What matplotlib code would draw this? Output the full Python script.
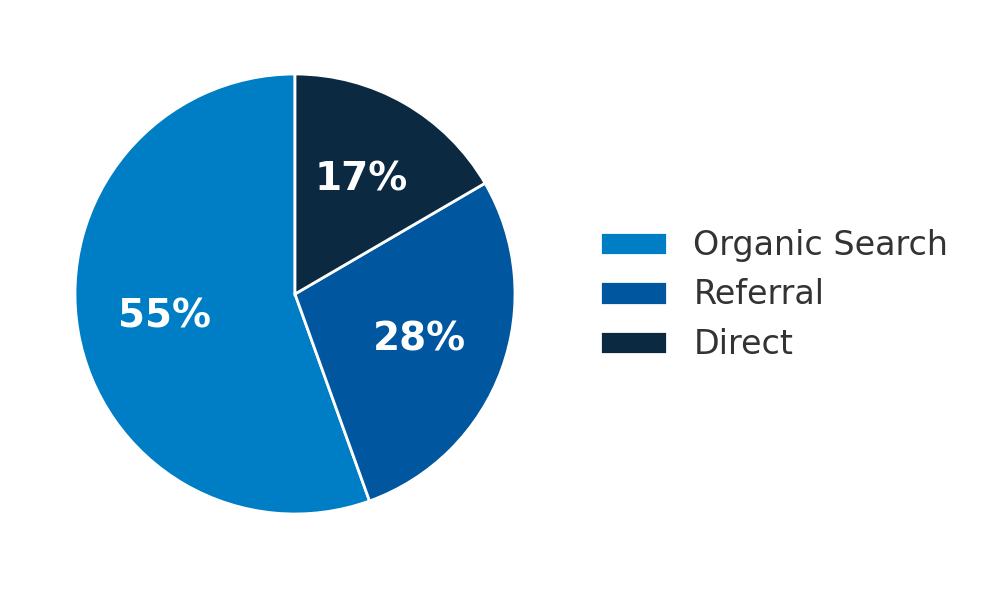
import matplotlib
matplotlib.use("Agg")
import matplotlib.pyplot as plt

labels = ["Organic Search", "Referral", "Direct"]
values = [55.5, 27.9, 16.6]
pct_labels = ["55%", "28%", "17%"]
colors = ["#007EC5", "#0057A0", "#0B2941"]

fig = plt.figure(figsize=(9.82, 5.9), dpi=100)
ax = fig.add_axes([75/982, 76/590, 440/982, 440/590])
wedges, texts = ax.pie(
    values, colors=colors, startangle=90, counterclock=True,
    wedgeprops=dict(edgecolor="white", linewidth=2),
)
import numpy as np
for w, lab in zip(wedges, pct_labels):
    ang = np.deg2rad((w.theta1 + w.theta2) / 2)
    ax.text(0.6 * np.cos(ang), 0.6 * np.sin(ang), lab, ha="center", va="center",
            color="white", fontsize=28, fontweight="bold")
ax.set_xlim(-1, 1)
ax.set_ylim(-1, 1)
ax.set_aspect("auto")

leg = fig.legend(wedges, labels, loc="center left", bbox_to_anchor=(570/982, 0.5),
                 frameon=False, fontsize=24)
for t in leg.get_texts():
    t.set_color("#333333")

fig.savefig("out.png", dpi=100)
